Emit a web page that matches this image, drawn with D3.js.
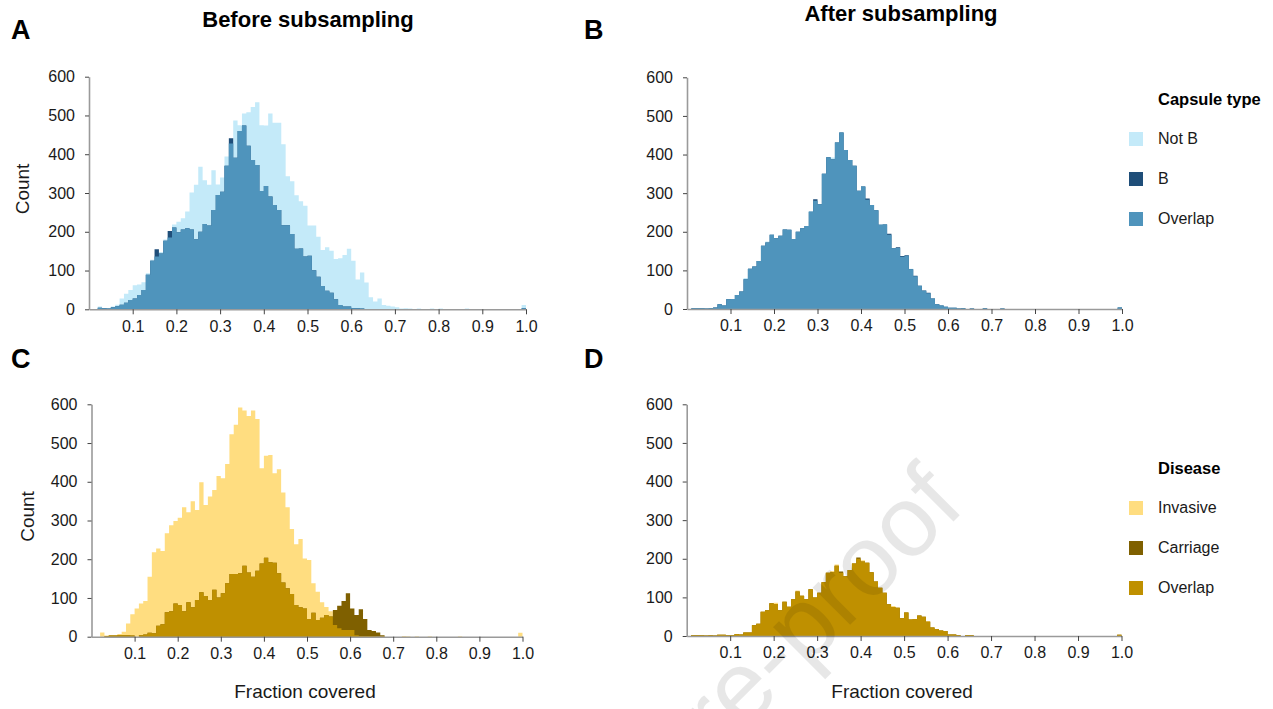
<!DOCTYPE html>
<html>
<head>
<meta charset="utf-8">
<script src="https://cdn.jsdelivr.net/npm/d3@7"></script>
<style>
  body { margin: 0; background: #fff; }
  text { font-family: "Liberation Sans", Arial, sans-serif; }
</style>
</head>
<body>
<div id="chart"></div>
<script>
// chart size
var svgWidth = 1273;
var svgHeight = 709;

// histogram bins are 0.01 wide, 100 bins from 0 to 1
var binWidth = 0.01;
var xTicks = [0.1, 0.2, 0.3, 0.4, 0.5, 0.6, 0.7, 0.8, 0.9, 1.0];
var xTickLabels = ["0.1", "0.2", "0.3", "0.4", "0.5", "0.6", "0.7", "0.8", "0.9", "1.0"];
var yTicks = [0, 100, 200, 300, 400, 500, 600];

var capsuleLabels = ["Not B", "B", "Overlap"];
var diseaseLabels = ["Invasive", "Carriage", "Overlap"];

// A: before subsampling, capsule type
var beforeNotB = [
  0, 0, 7, 3, 3, 7, 12, 28, 40, 50,
  62, 64, 70, 93, 128, 136, 148, 180, 185, 219,
  226, 235, 252, 301, 321, 368, 333, 321, 359, 322,
  340, 394, 428, 487, 475, 505, 508, 522, 534, 475,
  474, 505, 481, 481, 426, 343, 330, 294, 279, 267,
  216, 216, 187, 153, 160, 151, 130, 132, 140, 156,
  125, 77, 95, 69, 31, 20, 28, 11, 9, 7,
  5, 2, 3, 2, 0, 2, 0, 0, 2, 0,
  2, 0, 0, 0, 0, 0, 2, 0, 0, 0,
  0, 0, 0, 0, 0, 1, 0, 0, 0, 11
];
var beforeB = [
  0, 0, 4, 3, 2, 5, 8, 12, 17, 24,
  28, 37, 50, 89, 125, 155, 144, 177, 202, 211,
  199, 206, 209, 206, 181, 200, 220, 216, 256, 295,
  303, 370, 441, 391, 460, 474, 422, 385, 372, 305,
  318, 291, 269, 256, 217, 217, 194, 156, 157, 136,
  138, 101, 84, 60, 48, 43, 26, 11, 7, 7,
  3, 3, 2, 1, 1, 0, 0, 0, 0, 0,
  0, 0, 0, 0, 0, 0, 0, 0, 0, 0,
  0, 0, 0, 0, 0, 0, 0, 0, 0, 0,
  0, 0, 0, 0, 0, 0, 0, 0, 0, 3
];

// B: after subsampling, capsule type
var afterNotB = [
  0, 2, 2, 2, 1, 2, 4, 12, 9, 25,
  26, 36, 45, 80, 104, 110, 124, 164, 175, 192,
  183, 190, 206, 205, 181, 200, 209, 215, 254, 280,
  271, 350, 393, 392, 431, 457, 412, 386, 371, 306,
  317, 283, 269, 256, 219, 220, 192, 157, 158, 135,
  138, 104, 85, 60, 47, 41, 27, 12, 9, 6,
  3, 3, 1, 2, 0, 1, 0, 0, 2, 0,
  0, 0, 1, 0, 0, 0, 0, 0, 0, 0,
  0, 0, 0, 0, 0, 0, 0, 0, 0, 0,
  0, 0, 0, 0, 0, 0, 0, 0, 0, 4
];
var afterB = [
  0, 2, 2, 2, 1, 2, 4, 12, 9, 25,
  26, 36, 45, 77, 104, 110, 124, 164, 172, 192,
  183, 190, 206, 205, 181, 200, 209, 215, 252, 284,
  271, 350, 393, 388, 431, 457, 412, 386, 371, 306,
  317, 286, 269, 256, 218, 219, 195, 157, 160, 137,
  139, 103, 86, 60, 48, 42, 27, 12, 9, 6,
  3, 3, 1, 2, 0, 1, 0, 0, 2, 0,
  0, 0, 1, 0, 0, 0, 0, 0, 0, 0,
  0, 0, 0, 0, 0, 0, 0, 0, 0, 0,
  0, 0, 0, 0, 0, 0, 0, 0, 0, 4
];

// C: before subsampling, disease
var beforeInvasive = [
  0, 0, 11, 3, 4, 4, 7, 13, 34, 58,
  73, 86, 92, 155, 218, 228, 221, 267, 288, 299,
  307, 334, 321, 350, 327, 399, 340, 362, 379, 415,
  409, 446, 523, 547, 592, 584, 570, 584, 562, 435,
  467, 469, 422, 432, 372, 334, 278, 239, 252, 202,
  198, 138, 116, 89, 77, 66, 30, 22, 17, 17,
  17, 4, 2, 1, 2, 1, 0, 1, 0, 0,
  0, 0, 2, 1, 0, 1, 0, 0, 1, 0,
  0, 0, 0, 0, 0, 1, 0, 0, 0, 0,
  0, 0, 0, 0, 0, 0, 0, 0, 0, 10
];
var beforeCarriage = [
  0, 0, 0, 2, 3, 3, 4, 4, 4, 3,
  0, 4, 6, 10, 9, 28, 32, 63, 66, 86,
  82, 66, 89, 76, 95, 115, 105, 95, 121, 101,
  112, 138, 162, 162, 164, 183, 166, 155, 170, 189,
  204, 192, 191, 164, 140, 125, 110, 82, 76, 73,
  46, 62, 43, 49, 56, 52, 69, 80, 92, 112,
  73, 56, 71, 46, 17, 15, 11, 4, 0, 0,
  0, 0, 0, 0, 0, 0, 0, 0, 0, 0,
  0, 0, 0, 0, 0, 0, 0, 0, 0, 0,
  0, 0, 0, 0, 0, 0, 0, 0, 0, 0
];

// D: after subsampling, disease
var afterInvasive = [
  0, 2, 2, 2, 1, 2, 1, 3, 3, 2,
  2, 5, 4, 9, 9, 28, 32, 63, 67, 85,
  86, 67, 89, 76, 95, 118, 104, 95, 121, 100,
  112, 139, 164, 168, 185, 164, 155, 171, 188, 200,
  196, 190, 165, 141, 125, 112, 82, 78, 73, 46,
  61, 43, 44, 53, 50, 39, 22, 18, 14, 13,
  4, 4, 2, 0, 2, 2, 0, 0, 0, 0,
  0, 0, 0, 0, 0, 0, 0, 0, 0, 0,
  0, 0, 0, 0, 0, 0, 0, 0, 0, 0,
  0, 0, 0, 0, 0, 0, 0, 0, 0, 3
];
var afterCarriage = [
  0, 2, 2, 2, 1, 2, 1, 3, 3, 2,
  2, 5, 4, 9, 9, 28, 32, 63, 67, 85,
  83, 67, 89, 76, 95, 115, 104, 95, 121, 100,
  112, 139, 164, 165, 182, 167, 155, 171, 188, 203,
  193, 190, 165, 141, 125, 112, 82, 75, 73, 46,
  61, 43, 44, 53, 50, 37, 22, 18, 14, 13,
  4, 4, 2, 0, 2, 2, 0, 0, 0, 0,
  0, 0, 0, 0, 0, 0, 0, 0, 0, 0,
  0, 0, 0, 0, 0, 0, 0, 0, 0, 0,
  0, 0, 0, 0, 0, 0, 0, 0, 0, 3
];

var capsuleColors = ["#c4eaf9", "#1f4e79", "#4f94bc"];
var diseaseColors = ["#ffdd80", "#7f6000", "#bf9000"];

// panel placement (pixels)
var panels = [
  { a: beforeNotB, b: beforeB, colors: capsuleColors, x0: 89, x1: 526, yTop: 76.7, yBottom: 309.3,
    letter: "A", lx: 11, ly: 39, countX: 22, fraction: false },
  { a: afterNotB, b: afterB, colors: capsuleColors, x0: 687, x1: 1122, yTop: 77.3, yBottom: 309,
    letter: "B", lx: 584, ly: 39, countX: null, fraction: false },
  { a: beforeInvasive, b: beforeCarriage, colors: diseaseColors, x0: 91.5, x1: 522.5, yTop: 404.3, yBottom: 636.7,
    letter: "C", lx: 11, ly: 368, countX: 27, fraction: true },
  { a: afterInvasive, b: afterCarriage, colors: diseaseColors, x0: 686.7, x1: 1121.5, yTop: 404.3, yBottom: 636,
    letter: "D", lx: 584, ly: 368, countX: null, fraction: true }
];

var svg = d3.select("#chart")
  .append("svg")
  .attr("width", svgWidth)
  .attr("height", svgHeight);

// turn a list of bin counts into points for a step area
function stepPoints(values) {
  var pts = values.map(function (v, i) { return { x: i * binWidth, v: v }; });
  pts.push({ x: values.length * binWidth, v: values[values.length - 1] });
  return pts;
}

panels.forEach(function (p) {
  var xScale = d3.scaleLinear().domain([0, 1]).range([p.x0, p.x1]);
  var yScale = d3.scaleLinear().domain([0, 600]).range([p.yBottom, p.yTop]);

  var area = d3.area()
    .curve(d3.curveStepAfter)
    .x(d => xScale(d.x))
    .y0(yScale(0))
    .y1(d => yScale(d.v));

  var overlap = p.a.map((v, i) => Math.min(v, p.b[i]));
  var g = svg.append("g");

  // first series, second series on top, then the shared part
  g.append("path").attr("d", area(stepPoints(p.a))).attr("fill", p.colors[0]);
  g.append("path").attr("d", area(stepPoints(p.b))).attr("fill", p.colors[1]);
  g.append("path").attr("d", area(stepPoints(overlap))).attr("fill", p.colors[2]);

  var yAxis = svg.append("g")
    .attr("transform", `translate(${p.x0},0)`)
    .call(d3.axisLeft(yScale).tickValues(yTicks).tickSize(4).tickSizeOuter(0).tickPadding(10));
  var xAxis = svg.append("g")
    .attr("transform", `translate(0,${p.yBottom})`)
    .call(d3.axisBottom(xScale).tickValues(xTicks).tickFormat((d, i) => xTickLabels[i])
      .tickSize(5).tickSizeOuter(0).tickPadding(6));

  [yAxis, xAxis].forEach(function (ax) {
    ax.attr("font-family", null).attr("font-size", null);
    ax.select(".domain").attr("stroke", "#9a9a9a").attr("stroke-width", 1.6);
    ax.selectAll(".tick line").attr("stroke", "#444");
    ax.selectAll(".tick text").attr("fill", "#1a1a1a").style("font-size", "16px");
  });

  svg.append("text")
    .attr("x", p.lx).attr("y", p.ly)
    .style("font-size", "27px").style("font-weight", "bold")
    .text(p.letter);

  if (p.countX !== null) {
    svg.append("text")
      .attr("transform", `translate(${p.countX},${(p.yTop + p.yBottom) / 2 - 4}) rotate(-90)`)
      .attr("dy", "0.35em")
      .style("text-anchor", "middle").style("font-size", "19px").attr("fill", "#1a1a1a")
      .text("Count");
  }
  if (p.fraction) {
    svg.append("text")
      .attr("x", (p.x0 + p.x1) / 2 - 2).attr("y", 698)
      .style("text-anchor", "middle").style("font-size", "19px").attr("fill", "#1a1a1a")
      .text("Fraction covered");
  }
});

// column titles
svg.append("text").attr("x", 308).attr("y", 27)
  .style("text-anchor", "middle").style("font-size", "22px").style("font-weight", "bold")
  .text("Before subsampling");
svg.append("text").attr("x", 901).attr("y", 21)
  .style("text-anchor", "middle").style("font-size", "22px").style("font-weight", "bold")
  .text("After subsampling");

// legends
function legend(title, labels, colors, top) {
  svg.append("text").attr("x", 1158).attr("y", top).attr("dy", "0.35em")
    .style("font-size", "16.5px").style("font-weight", "bold")
    .text(title);
  labels.forEach(function (lab, i) {
    var cy = top + 40 * (i + 1);
    svg.append("rect")
      .attr("x", 1129).attr("y", cy - 7).attr("width", 14).attr("height", 14)
      .attr("fill", colors[i]);
    svg.append("text").attr("x", 1158).attr("y", cy - 1).attr("dy", "0.35em")
      .style("font-size", "16px").attr("fill", "#1a1a1a")
      .text(lab);
  });
}
legend("Capsule type", capsuleLabels, capsuleColors, 99);
legend("Disease", diseaseLabels, diseaseColors, 468);

// watermark
svg.append("text")
  .attr("transform", "translate(967,508) rotate(-45)")
  .style("text-anchor", "end").style("font-size", "100px")
  .attr("fill", "#000").attr("opacity", 0.09)
  .text("Journal Pre-proof");
</script>
</body>
</html>
